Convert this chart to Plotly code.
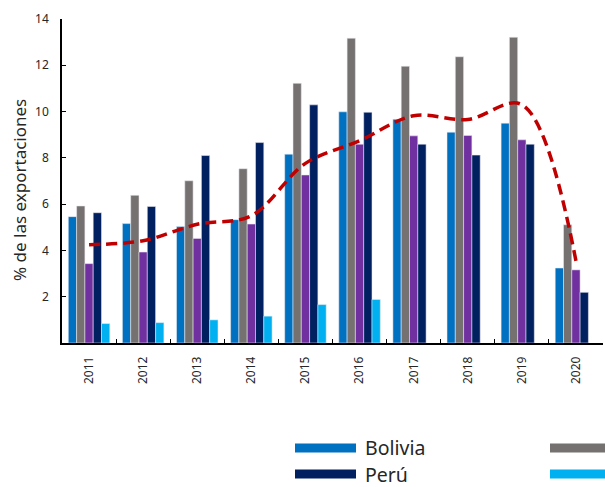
import plotly.graph_objects as go

# Participación en las exportaciones por país, 2011-2020
years = ["2011", "2012", "2013", "2014", "2015", "2016", "2017", "2018", "2019", "2020"]

bolivia = [5.46, 5.16, 5.03, 5.33, 8.16, 9.99, 9.67, 9.11, 9.50, 3.24]
colombia = [5.92, 6.38, 7.01, 7.53, 11.22, 13.17, 11.96, 12.37, 13.21, 5.11]
ecuador = [3.43, 3.93, 4.52, 5.14, 7.26, 8.59, 8.95, 8.97, 8.78, 3.16]
peru = [5.63, 5.90, 8.10, 8.66, 10.29, 9.97, 8.59, 8.12, 8.59, 2.19]
venezuela = [0.84, 0.88, 1.00, 1.16, 1.66, 1.88, None, None, None, None]
promedio = [4.25, 4.42, 5.13, 5.50, 7.76, 8.74, 9.82, 9.66, 10.30, 3.55]

series = [
    ("Bolivia", bolivia, "#0070C0"),
    ("Colombia", colombia, "#767171"),
    ("Ecuador", ecuador, "#7030A0"),
    ("Perú", peru, "#002060"),
    ("Venezuela", venezuela, "#00B0F0"),
]
line_name = "Promedio"
line_color = "#C00000"

FONT = "Noto Sans"
TEXT = "#262626"

fig = go.Figure()
for name, vals, color in series:
    fig.add_trace(go.Bar(
        x=years, y=vals, name=name,
        marker=dict(color=color, line=dict(color="rgba(235,235,240,0.9)", width=0.6)),
        showlegend=False,
    ))

fig.add_trace(go.Scatter(
    x=years, y=promedio, name=line_name, mode="lines",
    line=dict(color=line_color, width=3.5, dash="11px,6px", shape="spline", smoothing=1.0),
    showlegend=False,
))

# Page geometry (pixels) used to place the legend and axis title
W, H = 605, 487
L, R, T, B = 62, 2, 19, 144
pw, ph = W - L - R, H - T - B

def px_x(x):
    return (x - L) / pw

def px_y(y):
    return (H - B - y) / ph

# Legend drawn as wide colour swatches with labels, three columns
legend_items = [
    ("Bolivia", "#0070C0", "bar"), ("Colombia", "#767171", "bar"), ("Ecuador", "#7030A0", "bar"),
    ("Perú", "#002060", "bar"), ("Venezuela", "#00B0F0", "bar"), (line_name, line_color, "line"),
]
col_x = [295, 550, 805]
row_y = [448, 474]
shapes = []
annotations = []
for i, (name, color, kind) in enumerate(legend_items):
    r, c = divmod(i, 3)
    x0 = col_x[c]
    yc = row_y[r]
    if x0 >= W:
        continue
    if kind == "bar":
        shapes.append(dict(type="rect", xref="paper", yref="paper",
                           x0=px_x(x0), x1=px_x(x0 + 61), y0=px_y(yc - 4.5), y1=px_y(yc + 4.5),
                           fillcolor=color, line=dict(width=0)))
    else:
        shapes.append(dict(type="line", xref="paper", yref="paper",
                           x0=px_x(x0), x1=px_x(x0 + 61), y0=px_y(yc), y1=px_y(yc),
                           line=dict(color=color, width=3.5, dash="11px,6px")))
    if x0 + 69 < W:
        annotations.append(dict(text=name, xref="paper", yref="paper",
                                x=px_x(x0 + 69), y=px_y(yc), xanchor="left", yanchor="middle",
                                showarrow=False, borderpad=0,
                                font=dict(family=FONT, size=19.5, color=TEXT)))

# Vertical axis title
annotations.append(dict(text="% de las exportaciones", xref="paper", yref="paper",
                        x=px_x(19), y=px_y(190), xanchor="center", yanchor="middle",
                        textangle=-90, showarrow=False,
                        font=dict(family=FONT, size=17, color=TEXT)))

fig.update_layout(
    width=W, height=H,
    margin=dict(l=L, r=R, t=T, b=B, autoexpand=False),
    paper_bgcolor="white", plot_bgcolor="white",
    barmode="group", bargap=0.233, bargroupgap=0,
    font=dict(family=FONT, size=12, color=TEXT),
    shapes=shapes, annotations=annotations,
    xaxis=dict(
        type="category", tickangle=-90, showline=True, linecolor="black", linewidth=1.6,
        ticks="inside", ticklen=4, tickwidth=1.4, tickcolor="black", tickson="boundaries",
        ticklabelstandoff=7,
        tickfont=dict(size=12, color=TEXT), showgrid=False, zeroline=False, fixedrange=True,
    ),
    yaxis=dict(
        range=[0, 14], tickvals=[2, 4, 6, 8, 10, 12, 14], showline=True, linecolor="black",
        linewidth=1.6, ticks="inside", ticklen=4, tickwidth=1.4, tickcolor="black",
        ticklabelstandoff=9,
        tickfont=dict(size=12, color=TEXT), showgrid=False, zeroline=False,
    ),
)

fig.write_html("out.html")
